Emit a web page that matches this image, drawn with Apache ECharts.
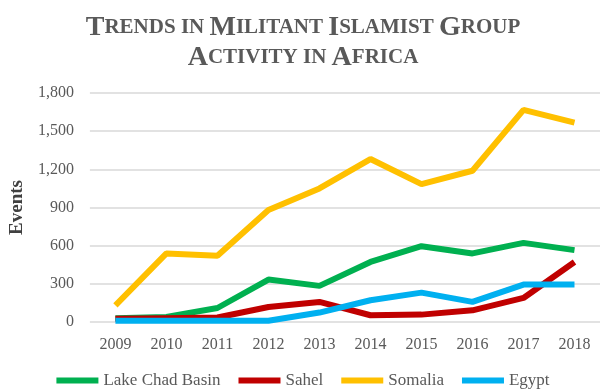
<!DOCTYPE html>
<html><head><meta charset="utf-8">
<script src="https://cdn.jsdelivr.net/npm/echarts@6/dist/echarts.min.js"></script>
<style>html,body{margin:0;padding:0;background:#fff}#c{width:606px;height:389px}</style>
</head><body><div id="c"></div>
<script>
var years = ['2009','2010','2011','2012','2013','2014','2015','2016','2017','2018'];
var lakeChad = [30, 40, 110, 334, 284, 472, 596, 539, 622, 565];
var sahel = [25, 30, 35, 118, 158, 53, 58, 92, 189, 472];
var somalia = [131, 539, 520, 880, 1050, 1281, 1084, 1189, 1667, 1567];
var egypt = [10, 10, 10, 10, 74, 171, 231, 158, 294, 294];
var seriesNames = ['Lake Chad Basin','Sahel','Somalia','Egypt'];
var colors = ['#00B050','#C00000','#FFC000','#00B0F0'];
var font = "'Liberation Serif', 'Times New Roman', serif";
var chart = echarts.init(document.getElementById('c'));
function mk(name, data, color){
  return {name:name,type:'line',data:data,symbol:'none',lineStyle:{width:6,color:color},itemStyle:{color:color},emphasis:{disabled:true}};
}
chart.setOption({
  animation:false,
  title:{
    left:'center', top:8,
    text:'{b|T}{s|RENDS IN }{b|M}{s|ILITANT }{b|I}{s|SLAMIST }{b|G}{s|ROUP}\n{b|A}{s|CTIVITY IN }{b|A}{s|FRICA}',
    textStyle:{
      rich:{
        b:{fontFamily:font,fontSize:28,fontWeight:'bold',color:'#595959',lineHeight:30},
        s:{fontFamily:font,fontSize:21,fontWeight:'bold',color:'#595959',lineHeight:30}
      }
    }
  },
  grid:{left:88,right:6,top:93,bottom:67},
  xAxis:{type:'category',data:years,boundaryGap:true,
    axisLine:{show:false},axisTick:{show:false},
    axisLabel:{fontFamily:font,fontSize:16,color:'#595959',margin:15}},
  yAxis:{type:'value',min:0,max:1800,interval:300,
    name:'Events',nameLocation:'middle',nameGap:55,
    nameTextStyle:{fontFamily:font,fontSize:19,fontWeight:'bold',color:'#404040'},
    axisLabel:{fontFamily:font,fontSize:16,color:'#595959',margin:16,
      formatter:function(v){return v.toLocaleString('en-US');}},
    splitLine:{lineStyle:{color:'#d9d9d9',width:1.5}}},
  legend:{bottom:-5,left:'center',icon:'rect',itemWidth:42,itemHeight:6,itemGap:18,
    data:seriesNames,
    textStyle:{fontFamily:font,fontSize:17,color:'#595959'}},
  series:[mk(seriesNames[0],lakeChad,colors[0]),mk(seriesNames[1],sahel,colors[1]),mk(seriesNames[2],somalia,colors[2]),mk(seriesNames[3],egypt,colors[3])]
});
</script></body></html>
